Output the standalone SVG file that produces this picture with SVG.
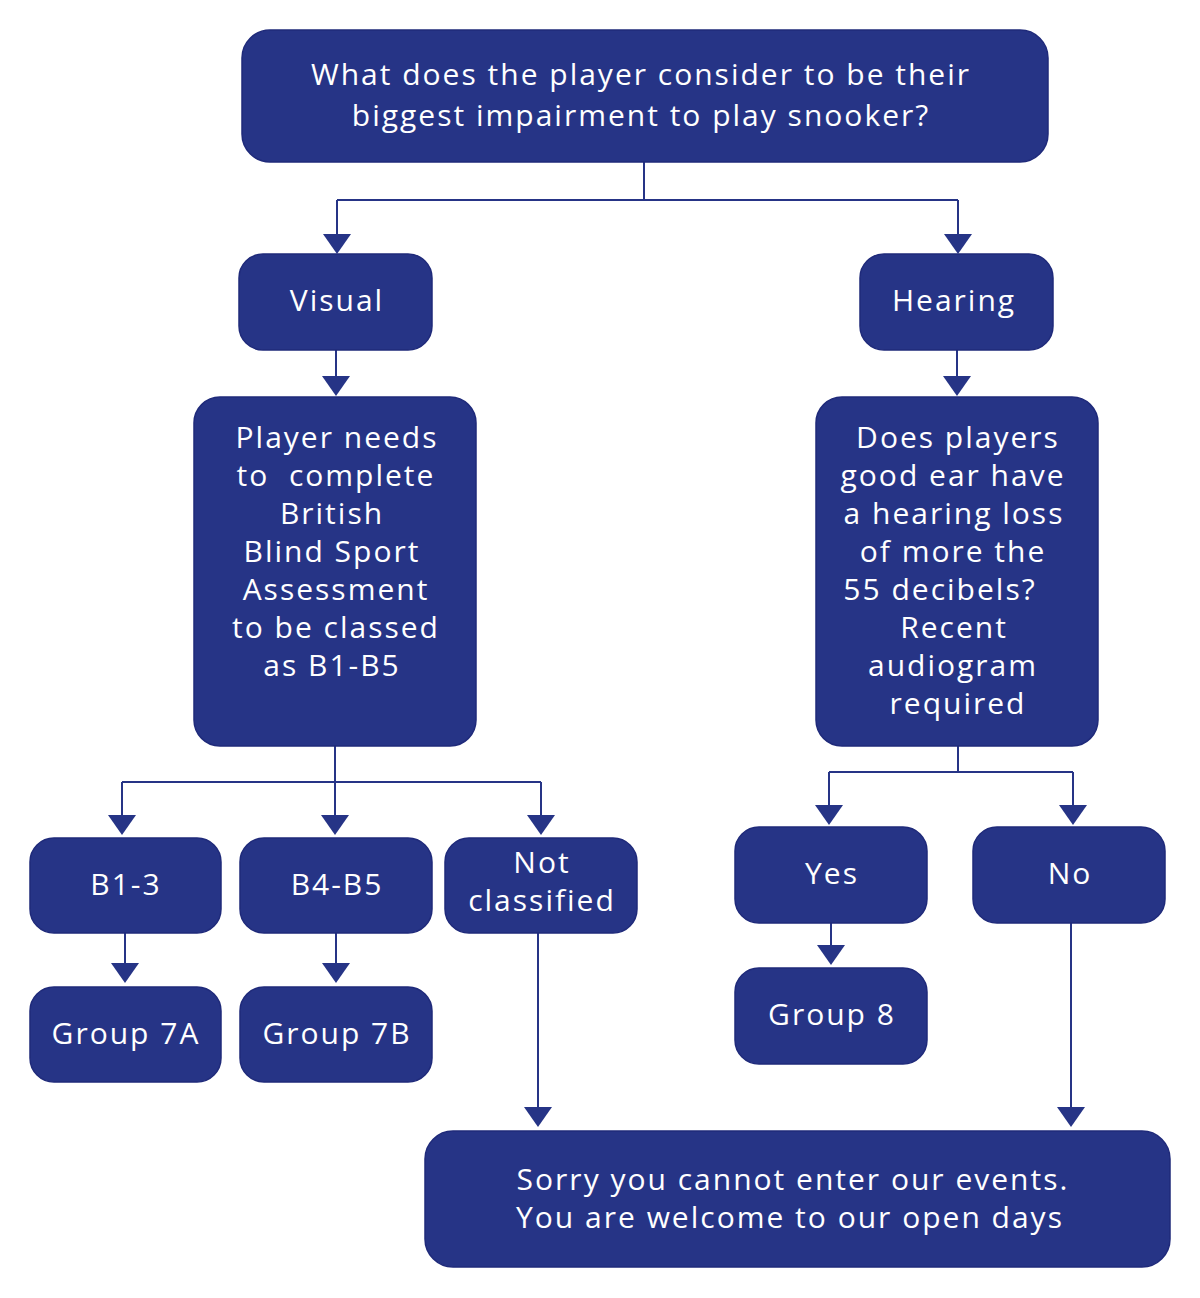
<svg xmlns="http://www.w3.org/2000/svg" width="1200" height="1298" viewBox="0 0 1200 1298">
<style>
.box{fill:#263486;stroke:#1f2a7a;stroke-width:1.5}
.t{font-family:"Open Sans","Liberation Sans",sans-serif;font-size:30px;letter-spacing:2px;fill:#ffffff;text-anchor:middle}
.c{fill:none;stroke:#263486;stroke-width:2}
.ah{fill:#263486}
</style>
<rect width="1200" height="1298" fill="#ffffff"/>
<g id="connectors">
<path class="c" d="M644,162 V200 M337,200 H958"/>
<path class="c" d="M337,200 V234"/>
<path class="ah" d="M323,234 L351,234 L337,254 Z"/>
<path class="c" d="M958,200 V234"/>
<path class="ah" d="M944,234 L972,234 L958,254 Z"/>
<path class="c" d="M336,350 V377"/>
<path class="ah" d="M322,376 L350,376 L336,396 Z"/>
<path class="c" d="M957,350 V377"/>
<path class="ah" d="M943,376 L971,376 L957,396 Z"/>
<path class="c" d="M335,746 V782 M122,782 H541 M122,782 V816 M335,782 V816 M541,782 V816"/>
<path class="ah" d="M108,815 L136,815 L122,835 Z"/>
<path class="ah" d="M321,815 L349,815 L335,835 Z"/>
<path class="ah" d="M527,815 L555,815 L541,835 Z"/>
<path class="c" d="M958,746 V772 M829,772 H1073 M829,772 V806 M1073,772 V806"/>
<path class="ah" d="M815,805 L843,805 L829,825 Z"/>
<path class="ah" d="M1059,805 L1087,805 L1073,825 Z"/>
<path class="c" d="M125,933 V964"/>
<path class="ah" d="M111,963 L139,963 L125,983 Z"/>
<path class="c" d="M336,933 V964"/>
<path class="ah" d="M322,963 L350,963 L336,983 Z"/>
<path class="c" d="M831,923 V946"/>
<path class="ah" d="M817,945 L845,945 L831,965 Z"/>
<path class="c" d="M538,933 V1108"/>
<path class="ah" d="M524,1107 L552,1107 L538,1127 Z"/>
<path class="c" d="M1071,923 V1108"/>
<path class="ah" d="M1057,1107 L1085,1107 L1071,1127 Z"/>
</g>
<g id="n-question">
<rect class="box" x="242" y="30" width="806" height="132" rx="28"/>
<text class="t" x="641" y="85">What does the player consider to be their</text>
<text class="t" x="641" y="126">biggest impairment to play snooker?</text>
</g>
<g id="n-visual">
<rect class="box" x="239" y="254" width="193" height="96" rx="24"/>
<text class="t" x="337" y="311">Visual</text>
</g>
<g id="n-hearing">
<rect class="box" x="860" y="254" width="193" height="96" rx="24"/>
<text class="t" x="954" y="311">Hearing</text>
</g>
<g id="n-assessment">
<rect class="box" x="194" y="397" width="282" height="349" rx="26"/>
<text class="t" x="337" y="448">Player needs</text>
<text class="t" x="336" y="486" xml:space="preserve">to  complete</text>
<text class="t" x="332" y="524">British</text>
<text class="t" x="332" y="562">Blind Sport</text>
<text class="t" x="336" y="600">Assessment</text>
<text class="t" x="336" y="638">to be classed</text>
<text class="t" x="332" y="676">as B1-B5</text>
</g>
<g id="n-hearingq">
<rect class="box" x="816" y="397" width="282" height="349" rx="26"/>
<text class="t" x="958" y="448">Does players</text>
<text class="t" x="953" y="486">good ear have</text>
<text class="t" x="954" y="524">a hearing loss</text>
<text class="t" x="953" y="562">of more the</text>
<text class="t" x="940" y="600">55 decibels?</text>
<text class="t" x="954" y="638">Recent</text>
<text class="t" x="953" y="676">audiogram</text>
<text class="t" x="958" y="714">required</text>
</g>
<g id="n-b13">
<rect class="box" x="30" y="838" width="191" height="95" rx="24"/>
<text class="t" x="126" y="895">B1-3</text>
</g>
<g id="n-b45">
<rect class="box" x="240" y="838" width="192" height="95" rx="24"/>
<text class="t" x="337" y="895">B4-B5</text>
</g>
<g id="n-notclassified">
<rect class="box" x="445" y="838" width="192" height="95" rx="24"/>
<text class="t" x="542" y="873">Not</text>
<text class="t" x="542" y="911">classified</text>
</g>
<g id="n-g7a">
<rect class="box" x="30" y="987" width="191" height="95" rx="24"/>
<text class="t" x="126" y="1044">Group 7A</text>
</g>
<g id="n-g7b">
<rect class="box" x="240" y="987" width="192" height="95" rx="24"/>
<text class="t" x="337" y="1044">Group 7B</text>
</g>
<g id="n-yes">
<rect class="box" x="735" y="827" width="192" height="96" rx="24"/>
<text class="t" x="832" y="884">Yes</text>
</g>
<g id="n-no">
<rect class="box" x="973" y="827" width="192" height="96" rx="24"/>
<text class="t" x="1070" y="884">No</text>
</g>
<g id="n-g8">
<rect class="box" x="735" y="968" width="192" height="96" rx="24"/>
<text class="t" x="832" y="1025">Group 8</text>
</g>
<g id="n-sorry">
<rect class="box" x="425" y="1131" width="745" height="136" rx="28"/>
<text class="t" x="793" y="1190">Sorry you cannot enter our events.</text>
<text class="t" x="790" y="1228">You are welcome to our open days</text>
</g>
</svg>
